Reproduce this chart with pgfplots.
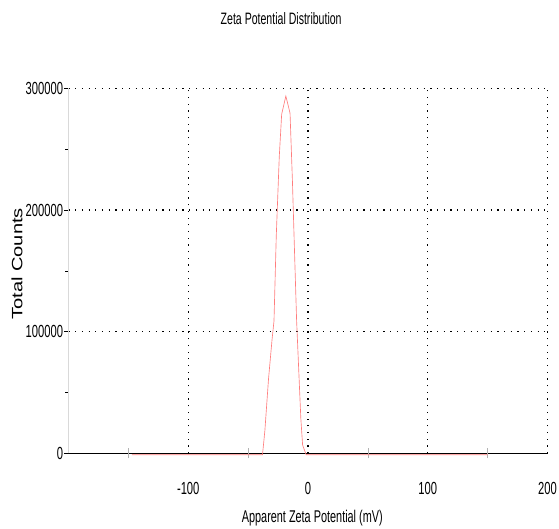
\documentclass[border=0pt]{standalone}
\usepackage{fontspec}
\setmainfont{Liberation Sans}[FakeStretch=0.64]
\newfontfamily\widefont{Liberation Sans}[FakeStretch=1.34]
\usepackage{pgfplots}
\pgfplotsset{compat=1.18}

\definecolor{curvered}{RGB}{255,125,125}

\begin{document}
\begin{tikzpicture}
\useasboundingbox (-68.5pt,-75.7pt) rectangle (490.5pt,453.3pt);
\begin{axis}[
  scale only axis,
  width=479pt, height=364.8pt,
  xmin=-200, xmax=200,
  ymin=0, ymax=300000,
  clip=false,
  axis x line*=bottom,
  axis y line*=left,
  x axis line style={black, line width=0.8pt},
  y axis line style={gray!30, line width=0.6pt},
  xtick={-100,0,100,200},
  xtick style={draw=none},
  extra x ticks={-150,-50,50,150},
  extra x tick labels={},
  extra x tick style={
    xmajorgrids=false,
    tick align=center, major tick length=10pt,
    xtick style={draw=gray!60, line width=0.6pt}},
  ytick={0,100000,200000,300000},
  minor y tick num=1,
  ytick align=outside,
  major tick length=4pt,
  minor tick length=3pt,
  ytick style={black, line width=0.5pt},
  scaled y ticks=false,
  yticklabel style={/pgf/number format/fixed, /pgf/number format/1000 sep={}, inner sep=1.2pt},
  /pgf/number format/assume math mode=true,
  tick label style={font=\fontsize{17.5}{19}\selectfont},
  xticklabel style={yshift=-25pt},
  grid=major,
  major grid style={black, line width=1.2pt, dash pattern=on 1.2pt off 5.5pt},
  title={Zeta Potential Distribution},
  title style={font=\fontsize{16.5}{18}\selectfont, at={(axis description cs:0.444,1.1765)}, anchor=center},
  xlabel={Apparent Zeta Potential (mV)},
  xlabel style={font=\fontsize{17}{19}\selectfont, at={(axis description cs:0.509,-0.177)}, anchor=center},
  ylabel={Total Counts},
  ylabel style={font=\widefont\fontsize{15}{17}\selectfont, at={(axis description cs:-0.1075,0.519)}, anchor=center},
]
\addplot[curvered, line width=0.65pt, yshift=-1.5pt] coordinates {
  (-147,0) (-38,0) (-36,20000) (-33,62000) (-30,95000) (-28.4,110000)
  (-26.5,180000) (-24,245000) (-22,280000) (-18.5,295000) (-15,281000)
  (-13,225000) (-11.5,175000) (-9.5,110000) (-6,30000) (-4.5,8000)
  (-1.5,0) (150,0)
};
\end{axis}
\end{tikzpicture}
\end{document}
